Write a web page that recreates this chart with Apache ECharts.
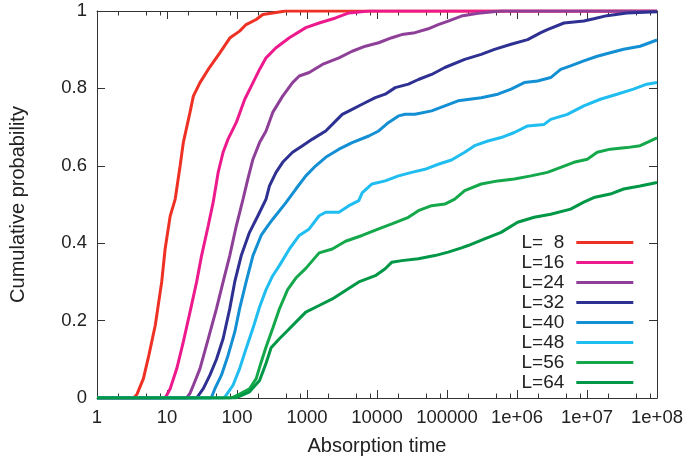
<!DOCTYPE html>
<html><head><meta charset="utf-8">
<script src="https://cdn.jsdelivr.net/npm/echarts@6/dist/echarts.min.js"></script>
<style>html,body{margin:0;padding:0;background:#fff}#c{width:688px;height:461px}</style>
</head><body><div id="c"></div>
<script>
// ---- data ----
const seriesNames = ['L=  8', 'L=16', 'L=24', 'L=32', 'L=40', 'L=48', 'L=56', 'L=64'];
const xTickLabels = ['1', '10', '100', '1000', '10000', '100000', '1e+06', '1e+07', '1e+08'];
const yTickLabels = ['0', '0.2', '0.4', '0.6', '0.8', '1'];
const xMinorTicks = [2, 5, 8, 20, 50, 80, 200, 500, 800, 2000, 5000, 8000, 2e4, 5e4, 8e4, 2e5, 5e5, 8e5, 2e6, 5e6, 8e6, 2e7, 5e7, 8e7];

const tL8 = [1, 3.35, 3.73, 4.6, 5.5, 6.8, 8.4, 9.4, 11.1, 13.1, 15.4, 17.1, 21.3, 23.8, 29.6, 38.8, 56.9, 78.8, 109, 135, 188, 234, 324, 495, 1e8];
const pL8 = [0, 0, 0.01, 0.05, 0.11, 0.188, 0.30, 0.385, 0.47, 0.514, 0.60, 0.66, 0.738, 0.78, 0.815, 0.849, 0.892, 0.93, 0.948, 0.965, 0.978, 0.991, 0.995, 1, 1];

const tL16 = [1, 9.4, 11.1, 13.8, 17.1, 21.3, 26.5, 31.2, 38.8, 45.7, 53.8, 63.3, 74.5, 97.8, 129, 160, 210, 260, 361, 560, 962, 1490, 2560, 3970, 7630, 1e8];
const pL16 = [0, 0, 0.024, 0.076, 0.145, 0.222, 0.30, 0.368, 0.445, 0.506, 0.583, 0.635, 0.669, 0.712, 0.772, 0.806, 0.849, 0.879, 0.905, 0.931, 0.957, 0.969, 0.982, 0.995, 1, 1];

const tL24 = [1, 19, 21.3, 23.8, 29.6, 38.8, 50.9, 63.3, 78.8, 97.8, 122, 143, 169, 210, 260, 324, 449, 622, 775, 1075, 1660, 2860, 4420, 6820, 10560, 16300, 22600, 34900, 54000, 75000, 104000, 161000, 277000, 593000, 1e8];
const pL24 = [0, 0, 0.012, 0.033, 0.076, 0.153, 0.231, 0.30, 0.368, 0.445, 0.514, 0.566, 0.617, 0.66, 0.69, 0.738, 0.78, 0.815, 0.832, 0.841, 0.862, 0.879, 0.896, 0.909, 0.918, 0.931, 0.939, 0.944, 0.954, 0.965, 0.974, 0.987, 0.994, 1, 1];

const tL32 = [1, 26.5, 28, 33, 41, 50.9, 63.3, 78.8, 92.8, 115, 151, 199, 260, 291, 361, 449, 622, 863, 1196, 1850, 2300, 3190, 4420, 6130, 9460, 13100, 18200, 28100, 39000, 60300, 93100, 179000, 308000, 477000, 822000, 1.42e6, 2.19e6, 2.72e6, 4.69e6, 9.0e6, 1.25e7, 1.93e7, 3.71e7, 1e8];
const pL32 = [0, 0, 0.003, 0.024, 0.059, 0.10, 0.153, 0.231, 0.30, 0.368, 0.428, 0.471, 0.514, 0.548, 0.583, 0.609, 0.635, 0.652, 0.669, 0.69, 0.707, 0.733, 0.746, 0.759, 0.776, 0.785, 0.802, 0.811, 0.823, 0.836, 0.854, 0.875, 0.888, 0.901, 0.914, 0.926, 0.944, 0.952, 0.969, 0.974, 0.98, 0.988, 0.995, 0.998];

const tL40 = [1, 42.8, 48.3, 59.9, 74.5, 92.8, 109, 135, 169, 221, 275, 324, 500, 693, 962, 1333, 1850, 2860, 4420, 7630, 10560, 14650, 20300, 25200, 34900, 60300, 93100, 144000, 308000, 532000, 822000, 1.27e6, 1.97e6, 3.03e6, 4.21e6, 5.83e6, 9.0e6, 1.40e7, 2.15e7, 3.33e7, 5.74e7, 1e8];
const pL40 = [0, 0, 0.024, 0.059, 0.11, 0.17, 0.231, 0.30, 0.368, 0.42, 0.445, 0.462, 0.505, 0.54, 0.574, 0.60, 0.622, 0.643, 0.66, 0.677, 0.69, 0.712, 0.729, 0.733, 0.733, 0.742, 0.755, 0.768, 0.776, 0.785, 0.798, 0.815, 0.819, 0.828, 0.849, 0.858, 0.871, 0.883, 0.892, 0.901, 0.909, 0.925];

const tL48 = [1, 65.4, 70.5, 87.7, 109, 135, 169, 210, 260, 324, 403, 560, 775, 1075, 1490, 1850, 2860, 3970, 5500, 6130, 8490, 13100, 20300, 31300, 48400, 75000, 116000, 179000, 248000, 384000, 593000, 917000, 1.42e6, 2.44e6, 3.03e6, 5.24e6, 9.0e6, 1.55e7, 2.68e7, 4.61e7, 7.14e7, 1e8];
const pL48 = [0, 0, 0.008, 0.033, 0.076, 0.128, 0.18, 0.235, 0.28, 0.316, 0.342, 0.385, 0.42, 0.437, 0.471, 0.48, 0.48, 0.497, 0.51, 0.53, 0.553, 0.561, 0.574, 0.583, 0.591, 0.604, 0.615, 0.635, 0.652, 0.664, 0.673, 0.686, 0.703, 0.707, 0.72, 0.733, 0.755, 0.772, 0.785, 0.798, 0.811, 0.815];

const tL56 = [1, 82.2, 109, 151, 188, 219, 258, 324, 403, 529, 693, 962, 1490, 2300, 3550, 6130, 10560, 16300, 28100, 39000, 60300, 93100, 129000, 179000, 308000, 532000, 917000, 1.58e6, 2.72e6, 4.21e6, 6.5e6, 1.01e7, 1.40e7, 2.15e7, 3.71e7, 5.74e7, 7.14e7, 1e8];
const pL56 = [0, 0, 0.01, 0.024, 0.05, 0.09, 0.13, 0.18, 0.23, 0.28, 0.31, 0.335, 0.375, 0.385, 0.405, 0.42, 0.437, 0.45, 0.467, 0.484, 0.497, 0.501, 0.514, 0.536, 0.553, 0.561, 0.566, 0.574, 0.583, 0.596, 0.609, 0.617, 0.635, 0.643, 0.647, 0.652, 0.66, 0.672];

const tL64 = [1, 96.8, 151, 210, 260, 307, 403, 500, 693, 962, 1490, 2300, 3550, 5500, 9460, 13100, 16300, 22600, 39000, 67100, 104000, 161000, 200000, 344000, 593000, 1.02e6, 1.76e6, 3.03e6, 5.83e6, 9.0e6, 1.25e7, 2.15e7, 3.33e7, 5.74e7, 1e8];
const pL64 = [0, 0, 0.016, 0.045, 0.09, 0.13, 0.153, 0.17, 0.196, 0.222, 0.239, 0.256, 0.278, 0.30, 0.316, 0.334, 0.351, 0.355, 0.36, 0.368, 0.377, 0.388, 0.394, 0.411, 0.428, 0.454, 0.467, 0.475, 0.488, 0.506, 0.518, 0.527, 0.54, 0.548, 0.557];

const seriesTimes = [tL8, tL16, tL24, tL32, tL40, tL48, tL56, tL64];
const seriesProbs = [pL8, pL16, pL24, pL32, pL40, pL48, pL56, pL64];

// ---- styles ----
const colors = ['#ee3124', '#ec1a8d', '#8e3f98', '#2e3192', '#138fd4', '#20bdf0', '#14a84b', '#009846'];
const FONT = "'Liberation Sans', Arial, Helvetica, sans-serif";
const TXT = '#222';
const AX = '#333';

const chart = echarts.init(document.getElementById('c'), null, {renderer: 'canvas'});

function logAxis(pos, main, minor) {
  return {
    type: 'log', logBase: 10, min: 1, max: 1e8, position: pos,
    axisLine: {show: !minor, onZero: false, lineStyle: {color: AX, width: 1}},
    axisTick: minor
      ? {show: true, inside: true, length: 4.5, customValues: xMinorTicks, lineStyle: {color: AX}}
      : {show: true, inside: true, length: 8, lineStyle: {color: AX}},
    axisLabel: main ? {
      show: true, margin: 10, fontSize: 18.5, color: TXT, fontFamily: FONT,
      formatter: v => xTickLabels[Math.round(Math.log10(v))]
    } : {show: false},
    splitLine: {show: false},
    minorTick: {show: false},
    name: main ? 'Absorption time' : '',
    nameLocation: 'middle', nameGap: 38,
    nameTextStyle: {fontSize: 20, color: TXT, fontFamily: FONT}
  };
}
function linAxis(pos, main) {
  return {
    type: 'value', min: 0, max: 1, interval: 0.2, position: pos,
    axisLine: {show: true, onZero: false, lineStyle: {color: AX, width: 1}},
    axisTick: {show: true, inside: true, length: 8, lineStyle: {color: AX}},
    axisLabel: main ? {
      show: true, margin: 10, fontSize: 18.5, color: TXT, fontFamily: FONT,
      formatter: v => yTickLabels[Math.round(v * 5)]
    } : {show: false},
    splitLine: {show: false},
    name: main ? 'Cumulative probability' : '',
    nameLocation: 'middle', nameGap: 69,
    nameTextStyle: {fontSize: 20, color: TXT, fontFamily: FONT}
  };
}

const option = {
  animation: false,
  backgroundColor: '#fff',
  grid: {left: 93, right: 31, top: 11, bottom: 62},
  xAxis: [logAxis('bottom', true, false), logAxis('top', false, false), logAxis('bottom', false, true), logAxis('top', false, true)],
  yAxis: [linAxis('left', true), linAxis('right', false)],
  legend: {
    orient: 'vertical', right: 54.7, top: 232.5, align: 'right',
    itemWidth: 57, itemHeight: 3, itemGap: 0, icon: 'rect', padding: 0,
    textStyle: {fontSize: 19, lineHeight: 20, color: TXT, fontFamily: FONT, padding: [0, 7, 0, 0]},
    data: seriesNames
  },
  series: seriesNames.map((name, k) => ({
    name: name, type: 'line', xAxisIndex: 0, yAxisIndex: 0,
    showSymbol: false, symbol: 'none',
    color: colors[k],
    lineStyle: {width: 3, color: colors[k]},
    data: seriesTimes[k].map((t, i) => [t, seriesProbs[k][i]])
  }))
};
chart.setOption(option);
</script>
</body></html>
